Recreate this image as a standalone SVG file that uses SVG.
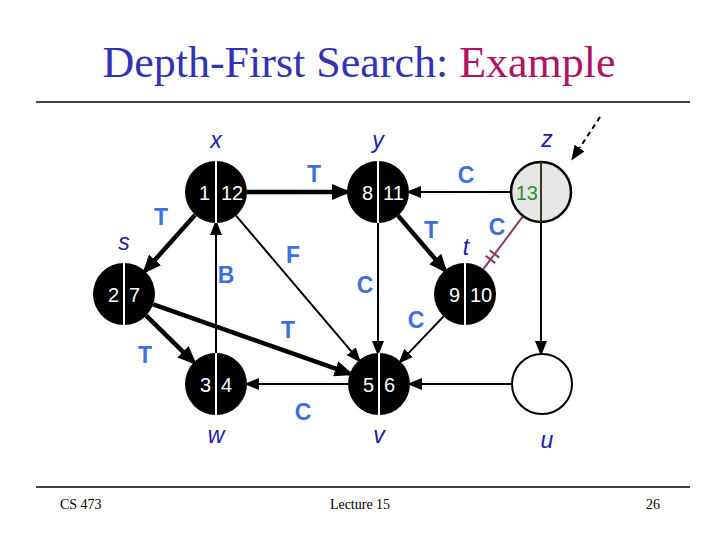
<svg xmlns="http://www.w3.org/2000/svg" width="720" height="540" viewBox="0 0 720 540">
<defs>
<marker id="aThin" markerUnits="userSpaceOnUse" markerWidth="16" markerHeight="12" refX="12" refY="6" orient="auto"><path d="M0,0 L15,6 L0,12 Z" fill="#000"/></marker>
<marker id="aThick" markerUnits="userSpaceOnUse" markerWidth="20" markerHeight="16" refX="15" refY="8" orient="auto"><path d="M0,0 L19,8 L0,16 Z" fill="#000"/></marker>
</defs>
<style>
.thin{stroke:#000;stroke-width:2;fill:none;marker-end:url(#aThin)}
.thick{stroke:#000;stroke-width:4.5;fill:none;marker-end:url(#aThick)}
.el{font-family:"Liberation Sans",Arial,sans-serif;font-weight:bold;font-size:23px;fill:#3d6fe0;text-anchor:middle}
.nl{font-family:"Liberation Sans",Arial,sans-serif;font-style:italic;font-size:23px;fill:#1c1cae;text-anchor:middle}
.num{font-family:"Liberation Sans",Arial,sans-serif;font-size:20px;fill:#fff}
.dot{fill:#000}
.div{stroke:#fff;stroke-width:2}
.title{font-family:"Liberation Serif","Times New Roman",serif;font-size:44px;fill:#3232b4;text-anchor:middle}
.foot{font-family:"Liberation Serif","Times New Roman",serif;font-size:14px;fill:#000}
</style>
<rect width="720" height="540" fill="#fff"/>
<text class="title" x="359" y="77">Depth-First Search: <tspan fill="#b0135f">Example</tspan></text>
<line x1="36" y1="102" x2="690" y2="102" stroke="#000" stroke-width="1.5"/>
<line x1="36" y1="487" x2="690" y2="487" stroke="#000" stroke-width="1.5"/>
<text class="foot" x="60" y="509">CS 473</text>
<text class="foot" x="360" y="509" text-anchor="middle">Lecture 15</text>
<text class="foot" x="660" y="509" text-anchor="end">26</text>

<g id="connectors">
<line class="thick" x1="247" y1="192" x2="347" y2="192"/>
<line class="thick" x1="195" y1="215" x2="145" y2="271"/>
<line class="thin" x1="216" y1="353" x2="216" y2="223"/>
<line class="thin" x1="236" y1="215.6" x2="359" y2="360.4"/>
<line class="thin" x1="378" y1="223" x2="378" y2="353"/>
<line class="thick" x1="398" y1="215.6" x2="445" y2="270.4"/>
<line class="thin" x1="510" y1="192" x2="409" y2="192"/>
<line x1="522.5" y1="216.9" x2="483.5" y2="268.9" stroke="#8a3a66" stroke-width="2"/>
<line x1="485.7" y1="255.9" x2="495.3" y2="263.1" stroke="#8a3a66" stroke-width="2"/>
<line x1="489.7" y1="250.4" x2="499.3" y2="257.6" stroke="#8a3a66" stroke-width="2"/>
<line class="thin" x1="541" y1="223" x2="541" y2="353"/>
<line class="thin" x1="443.6" y1="316.4" x2="400.4" y2="361.6"/>
<line class="thick" x1="153.2" y1="304.3" x2="349.8" y2="373.7"/>
<line class="thick" x1="146.2" y1="315.7" x2="193.8" y2="362.3"/>
<line class="thin" x1="348" y1="384" x2="247" y2="384"/>
<line class="thin" x1="511" y1="384" x2="410" y2="384"/>
<line class="thin" x1="600" y1="117" x2="573" y2="158" stroke-dasharray="5,4"/>
</g>

<g id="edge-labels">
<text class="el" x="314" y="182">T</text>
<text class="el" x="161" y="225">T</text>
<text class="el" x="226" y="283">B</text>
<text class="el" x="293" y="263">F</text>
<text class="el" x="365" y="293">C</text>
<text class="el" x="466" y="183">C</text>
<text class="el" x="431" y="238">T</text>
<text class="el" x="497" y="235">C</text>
<text class="el" x="416" y="328">C</text>
<text class="el" x="288" y="338">T</text>
<text class="el" x="145" y="363">T</text>
<text class="el" x="303" y="420">C</text>
</g>

<g id="node-x">
<circle class="dot" cx="216" cy="192" r="31"/>
<line class="div" x1="216" y1="161" x2="216" y2="223"/>
<text class="num" x="210" y="200" text-anchor="end">1</text>
<text class="num" x="221" y="200">12</text>
<text class="nl" x="216" y="148">x</text>
</g>
<g id="node-y">
<circle class="dot" cx="378" cy="192" r="31"/>
<line class="div" x1="378" y1="161" x2="378" y2="223"/>
<text class="num" x="373" y="200" text-anchor="end">8</text>
<text class="num" x="383" y="200">11</text>
<text class="nl" x="378" y="148">y</text>
</g>
<g id="node-z">
<circle cx="541" cy="192" r="30" fill="#e6e6e6" stroke="#000" stroke-width="2.5"/>
<line x1="541" y1="162" x2="541" y2="222" stroke="#3c3820" stroke-width="2"/>
<text class="num" x="538" y="200" text-anchor="end" style="fill:#2e8b2e">13</text>
<text class="nl" x="547" y="147">z</text>
</g>
<g id="node-s">
<circle class="dot" cx="124" cy="294" r="31"/>
<line class="div" x1="124" y1="263" x2="124" y2="325"/>
<text class="num" x="119" y="302" text-anchor="end">2</text>
<text class="num" x="129" y="302">7</text>
<text class="nl" x="124" y="250">s</text>
</g>
<g id="node-t">
<circle class="dot" cx="465" cy="294" r="31"/>
<line class="div" x1="465" y1="263" x2="465" y2="325"/>
<text class="num" x="460" y="302" text-anchor="end">9</text>
<text class="num" x="470" y="302">10</text>
<text class="nl" x="466" y="255">t</text>
</g>
<g id="node-w">
<circle class="dot" cx="216" cy="384" r="31"/>
<line class="div" x1="216" y1="353" x2="216" y2="415"/>
<text class="num" x="211" y="392" text-anchor="end">3</text>
<text class="num" x="221" y="392">4</text>
<text class="nl" x="216" y="443">w</text>
</g>
<g id="node-v">
<circle class="dot" cx="379" cy="384" r="31"/>
<line class="div" x1="379" y1="353" x2="379" y2="415"/>
<text class="num" x="374" y="392" text-anchor="end">5</text>
<text class="num" x="384" y="392">6</text>
<text class="nl" x="379" y="443">v</text>
</g>
<g id="node-u">
<circle cx="542" cy="384" r="30" fill="#fff" stroke="#000" stroke-width="2"/>
<text class="nl" x="547" y="448">u</text>
</g>
</svg>
